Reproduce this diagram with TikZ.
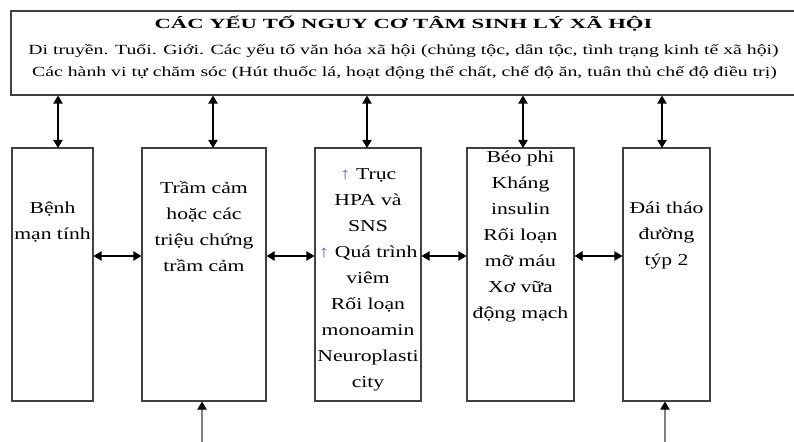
\documentclass[tikz,border=0pt]{standalone}
\usepackage{fontspec}
\setmainfont{Liberation Serif}[FakeStretch=1.3]
\usetikzlibrary{positioning}
\usetikzlibrary{arrows.meta}
\definecolor{uparrow}{RGB}{128,96,192}
\tikzset{
  x=0.75pt, y=-0.75pt,
  every node/.append style={font=\fontsize{12.5}{19.5}\selectfont},
  every path/.append style={line width=0.8pt},
  every text node part/.append style={align=center}
}
\tikzstyle{frame} = [draw=black!75, inner sep=0pt]
\tikzstyle{arrow} = [-{Triangle[length=6pt,width=7pt,color=black]}]
\tikzstyle{both} = [{Triangle[length=6pt,width=7pt]}-{Triangle[length=6pt,width=7pt]}]
\tikzstyle{toptext} = [anchor=base, font=\fontsize{10.5}{13}\selectfont]
\newcommand\stage[6]{
  % #1 - Tikz name
  % #2 - left edge (px)
  % #3 - right edge (px)
  % #4 - where the arrow from above lands (px)
  % #5 - baseline of the first line (px)
  % #6 - lines, comma separated
  \node[frame, minimum width={(#3-#2)*0.75pt}, minimum height=189.75pt]
    at ({(#2+#3)/2},274.5) (#1) {};
  \coordinate (#1-up) at (#4,148);
  \foreach \row [count=\i] in {#6}
    \node[anchor=base] (#1-\i) at ({(#2+#3)/2},{#5+(\i-1)*26}) {\row};
}

\begin{document}
\begin{tikzpicture}
  \useasboundingbox[fill=white] (0,0) rectangle (794,442);

  % the right edge of the top box lies past the picture
  \node[frame, minimum width=591.75pt, minimum height=63pt] at (405.5,53) (risk) {};
  \node[toptext, font=\fontsize{10.5}{13}\selectfont\bfseries] at (403.5,29) (title)
    {\scalebox{1.245}[1]{CÁC YẾU TỐ NGUY CƠ TÂM SINH LÝ XÃ HỘI}};
  \node[toptext] at (403.5,55) (genes)
    {\scalebox{1.087}[1]{Di truyền. Tuổi. Giới. Các yếu tố văn hóa xã hội (chủng tộc, dân tộc, tình trạng kinh tế xã hội)}};
  \node[toptext] at (404.5,77) (habits)
    {\scalebox{1.087}[1]{Các hành vi tự chăm sóc (Hút thuốc lá, hoạt động thể chất, chế độ ăn, tuân thủ chế độ điều trị)}};

  \stage{chronic}{12}{93}{58}{214}{Bệnh, mạn tính}
  \stage{depress}{142}{266}{213}{194}{Trầm cảm, hoặc các, triệu chứng, trầm cảm}
  \stage{hpa}{315}{421}{367}{180}{\textcolor{uparrow}{↑} Trục, HPA và, SNS,
    \textcolor{uparrow}{↑} Quá trình, viêm, Rối loạn, monoamin, Neuroplasti, city}
  \stage{obese}{467}{574}{523}{163}{Béo phi, Kháng, insulin, Rối loạn, mỡ máu, Xơ vữa, động mạch}
  \stage{diabetes}{623}{710}{662}{214}{Đái tháo, đường, týp 2}

  \draw[both] (chronic-up |- risk.south) -- (chronic-up);
  \draw[both] (depress-up |- risk.south) -- (depress-up);
  \draw[both] (hpa-up |- risk.south) -- (hpa-up);
  \draw[both] (obese-up |- risk.south) -- (obese-up);
  \draw[both] (diabetes-up |- risk.south) -- (diabetes-up);

  \coordinate (row) at (0,256);
  \draw[both] (chronic.east |- row) -- (depress.west |- row);
  \draw[both] (depress.east |- row) -- (hpa.west |- row);
  \draw[both] (hpa.east |- row) -- (obese.west |- row);
  \draw[both] (obese.east |- row) -- (diabetes.west |- row);

  \coordinate (in2) at (202,442);
  \coordinate (in5) at (665,442);
  \draw[arrow, draw=gray] (in2) -- (in2 |- depress.south);
  \draw[arrow, draw=gray] (in5) -- (in5 |- diabetes.south);
\end{tikzpicture}
\end{document}
